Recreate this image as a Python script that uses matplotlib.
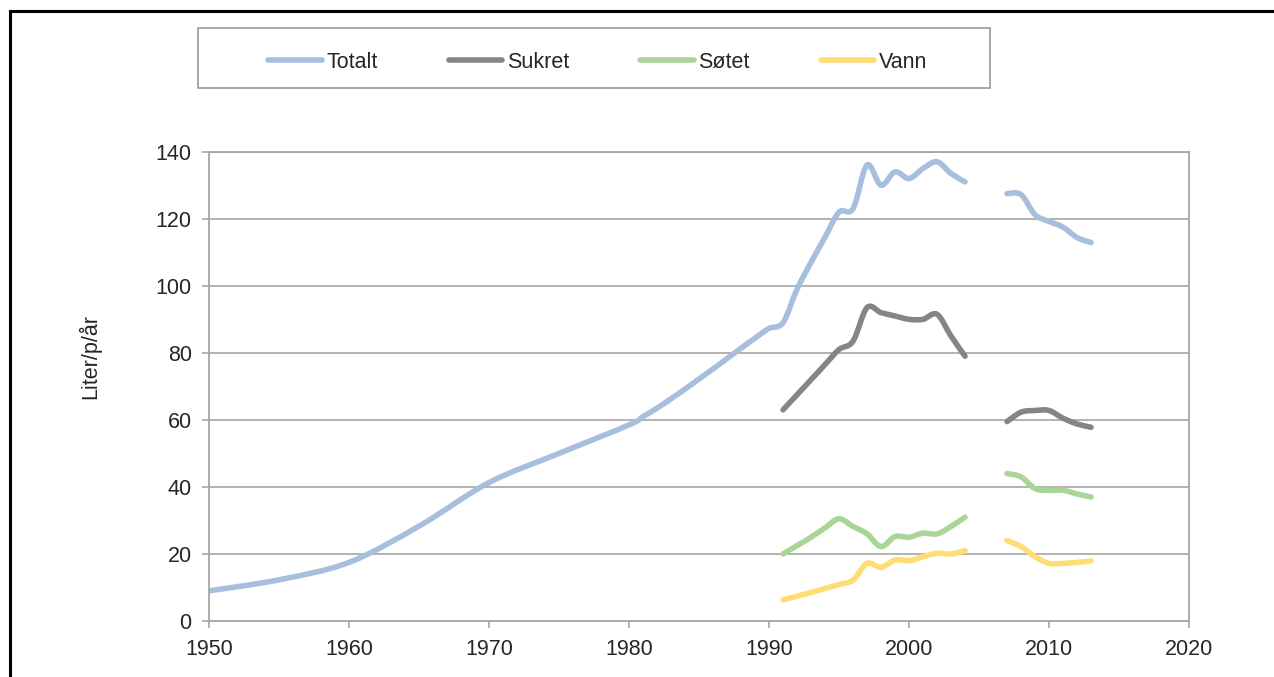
import matplotlib.pyplot as plt
import numpy as np
from matplotlib.path import Path
from matplotlib.patches import PathPatch, Rectangle
from matplotlib.lines import Line2D

plt.rcParams['font.family'] = ['Liberation Sans', 'DejaVu Sans']

# data (no values for 2005-2006 -> gap)
years_totalt = [1950, 1955, 1960, 1965, 1970, 1975, 1980,
                1981, 1982, 1983, 1984, 1985, 1986, 1987, 1988, 1989, 1990,
                1991, 1992, 1993, 1994, 1995, 1996, 1997, 1998, 1999,
                2000, 2001, 2002, 2003, 2004, 2005, 2006,
                2007, 2008, 2009, 2010, 2011, 2012, 2013]
totalt = [9, 12.3, 17.5, 28.3, 41.3, 50, 58.5,
          61, 63.5, 66.3, 69.2, 72.2, 75.2, 78.3, 81.4, 84.4, 87.3,
          89, 99, 107, 114.5, 122, 123, 136, 130, 134,
          132, 135, 137, 133.5, 131, np.nan, np.nan,
          127.5, 127.2, 121.2, 119.2, 117.5, 114.4, 112.9]

years = [1991, 1992, 1993, 1994, 1995, 1996, 1997, 1998, 1999,
         2000, 2001, 2002, 2003, 2004, 2005, 2006,
         2007, 2008, 2009, 2010, 2011, 2012, 2013]
sukret = [63, 67.5, 72, 76.5, 81, 83.5, 93.5, 92, 91,
          90, 90, 91.5, 85, 79, np.nan, np.nan,
          59.5, 62.3, 62.8, 62.8, 60.5, 58.8, 57.8]
sotet = [20, 22.5, 25, 27.8, 30.5, 28.2, 26, 22.2, 25.2,
         25, 26.2, 26, 28.2, 31, np.nan, np.nan,
         44, 43, 39.5, 39, 39, 37.9, 37]
vann = [6.3, 7.4, 8.5, 9.7, 10.9, 12.2, 17.2, 16, 18.2,
        18, 19.2, 20.2, 20, 21, np.nan, np.nan,
        24, 22.2, 19.2, 17.2, 17.2, 17.5, 17.9]

labels = ['Totalt', 'Sukret', 'Søtet', 'Vann']
colors = ['#A7BFDC', '#858585', '#A9D597', '#FFDD75']

grid_col = '#A6A6A6'
text_col = '#262626'
fs = 15.5
lw = 4.0


def smooth_patches(xs, ys, color):
    # Excel-style smoothed line: Catmull-Rom as cubic Bezier, split on gaps
    xs = np.asarray(xs, dtype=float)
    ys = np.asarray(ys, dtype=float)
    ok = ~np.isnan(ys)
    patches = []
    idx = np.where(ok)[0]
    groups = np.split(idx, np.where(np.diff(idx) > 1)[0] + 1)
    for g in groups:
        p = np.column_stack([xs[g], ys[g]])
        n = len(p)
        verts = [p[0]]
        codes = [Path.MOVETO]
        for i in range(n - 1):
            p0 = p[i - 1] if i > 0 else p[i]
            p3 = p[i + 2] if i + 2 < n else p[i + 1]
            c1 = p[i] + (p[i + 1] - p0) / 6
            c2 = p[i + 1] - (p3 - p[i]) / 6
            verts += [c1, c2, p[i + 1]]
            codes += [Path.CURVE4] * 3
        patches.append(PathPatch(Path(verts, codes), facecolor='none',
                                 edgecolor=color, lw=lw,
                                 capstyle='round', joinstyle='round'))
    return patches


fig = plt.figure(figsize=(12.74, 6.77), dpi=100)
ax = fig.add_axes([0.1641, 0.0827, 0.7692, 0.6932])

series = [(years_totalt, totalt), (years, sukret), (years, sotet), (years, vann)]
for (xs, ys), c in zip(series, colors):
    for patch in smooth_patches(xs, ys, c):
        ax.add_patch(patch)

ax.set_xlim(1950, 2020)
ax.set_ylim(0, 140)
ax.set_xticks(np.arange(1950, 2021, 10))
ax.set_yticks(np.arange(0, 141, 20))
ax.yaxis.grid(True, color=grid_col, lw=1.2)
ax.set_axisbelow(True)
for s in ax.spines.values():
    s.set_color(grid_col)
    s.set_linewidth(1.3)
ax.tick_params(axis='both', direction='out', length=5, width=1.2,
               color=grid_col, labelsize=fs, labelcolor=text_col)
ax.tick_params(axis='x', pad=8)
ax.tick_params(axis='y', pad=7.5)

fig.text(90 / 1274, 0.474, 'Liter/p/år', rotation=90, ha='center',
         va='center', fontsize=fs, color=text_col)

# legend with its own frame
fig.patches.append(Rectangle((198 / 1274, 589 / 677), 792 / 1274, 60 / 677,
                             transform=fig.transFigure, fill=False,
                             edgecolor='#A0A0A0', lw=1.3))
handles = [Line2D([], [], color=c, lw=lw, solid_capstyle='round') for c in colors]
fig.legend(handles, labels, loc='center', bbox_to_anchor=(0.469, 0.908),
           ncol=4, frameon=False, fontsize=fs, handlelength=2.5,
           handletextpad=0.2, columnspacing=3.3, labelcolor=text_col)

# outer black frame (open at right/bottom)
fig.patches.append(Rectangle((10 / 1274, -0.1), 1.2, 1.1 - 11 / 677,
                             transform=fig.transFigure, fill=False,
                             edgecolor='black', lw=2.2))

plt.savefig('out.png', dpi=100)
